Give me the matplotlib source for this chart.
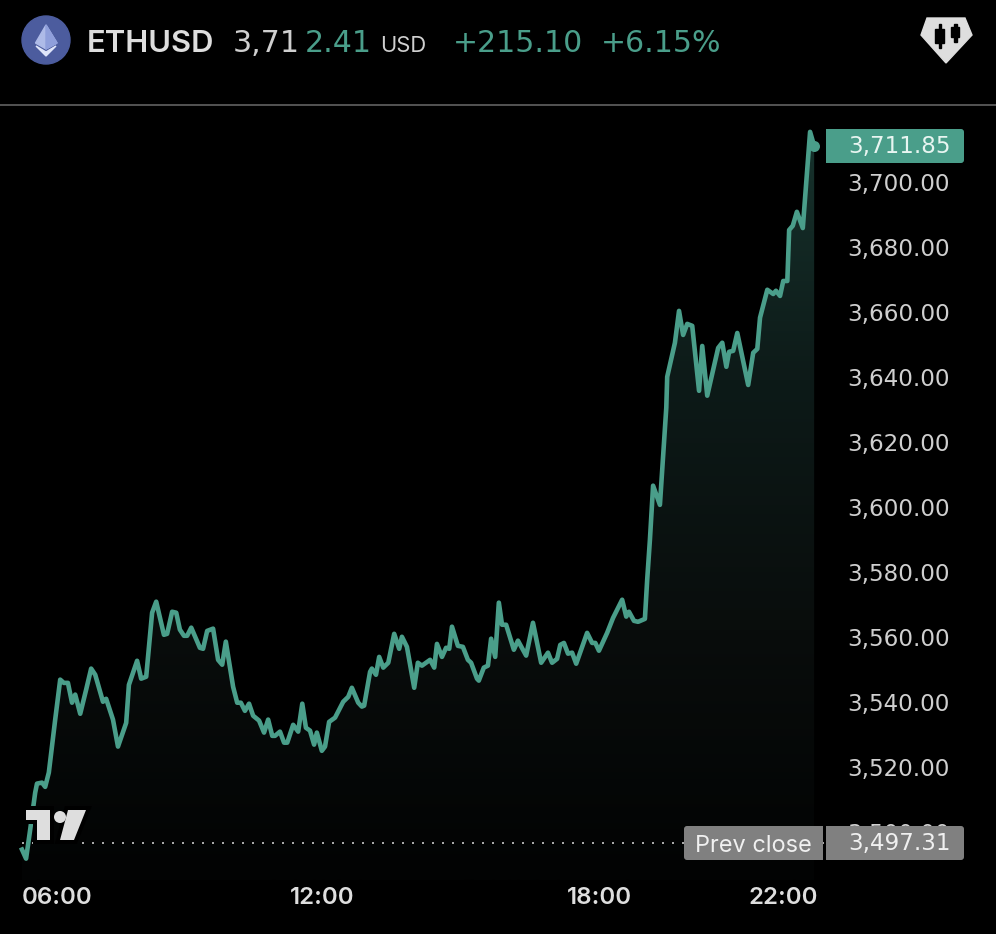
import matplotlib
matplotlib.use("Agg")
import matplotlib.pyplot as plt
import numpy as np
from matplotlib.colors import LinearSegmentedColormap
from matplotlib.patches import Circle, FancyBboxPatch, Polygon, Rectangle

# hours of the day
times = [5.23, 5.32, 5.41, 5.52, 5.56, 5.67, 5.74, 5.82, 5.96, 6.07, 6.15, 6.24, 6.33, 6.40, 6.51, 6.64,
         6.75, 6.84, 7.01, 7.08, 7.23, 7.34, 7.52, 7.58, 7.76, 7.85, 7.96, 8.09, 8.18, 8.35, 8.42, 8.53,
         8.62, 8.70, 8.79, 8.86, 8.95, 9.14, 9.21, 9.30, 9.43, 9.54, 9.63, 9.71, 9.87, 9.96, 10.04, 10.13,
         10.22, 10.31, 10.44, 10.55, 10.64, 10.73, 10.79, 10.90, 10.99, 11.06, 11.19, 11.30, 11.39, 11.47,
         11.56, 11.65, 11.71, 11.82, 11.89, 11.98, 12.11, 12.29, 12.40, 12.48, 12.62, 12.70, 12.75, 12.88,
         12.92, 13.01, 13.08, 13.17, 13.28, 13.41, 13.52, 13.58, 13.69, 13.85, 13.93, 14.02, 14.20, 14.29,
         14.35, 14.46, 14.55, 14.62, 14.68, 14.81, 14.92, 15.03, 15.10, 15.23, 15.27, 15.38, 15.47, 15.54,
         15.63, 15.71, 15.78, 15.87, 16.04, 16.13, 16.31, 16.46, 16.64, 16.79, 16.88, 16.99, 17.06, 17.14,
         17.23, 17.32, 17.41, 17.65, 17.76, 17.83, 17.91, 18.09, 18.22, 18.42, 18.51, 18.57, 18.68, 18.77,
         18.92, 18.97, 19.03, 19.10, 19.25, 19.39, 19.41, 19.58, 19.67, 19.76, 19.85, 19.96, 20.11, 20.18,
         20.29, 20.53, 20.62, 20.71, 20.77, 20.86, 20.95, 21.19, 21.30, 21.39, 21.45, 21.61, 21.74, 21.80,
         21.89, 21.96, 22.05, 22.09, 22.17, 22.26, 22.39, 22.55, 22.64]

prices = [3495.3, 3492.5, 3501.4, 3512.8, 3515.6, 3515.9, 3514.6, 3519.0, 3535.3, 3547.6, 3546.6, 3546.6,
          3540.5, 3543.0, 3537.1, 3544.5, 3551.0, 3549.1, 3540.8, 3541.7, 3535.3, 3527.0, 3534.3, 3546.0,
          3553.4, 3547.9, 3548.5, 3568.2, 3571.6, 3561.4, 3561.7, 3568.5, 3568.2, 3563.0, 3561.1, 3561.1,
          3563.6, 3557.4, 3557.1, 3562.6, 3563.3, 3553.7, 3552.2, 3559.3, 3545.4, 3540.5, 3540.5, 3538.0,
          3540.2, 3536.5, 3535.0, 3531.3, 3535.3, 3530.3, 3530.3, 3531.6, 3528.2, 3528.2, 3533.7, 3531.6,
          3540.2, 3532.8, 3531.9, 3527.6, 3531.3, 3525.7, 3527.0, 3534.6, 3535.9, 3540.8, 3542.3, 3545.1,
          3540.5, 3539.3, 3539.6, 3550.0, 3551.0, 3549.1, 3554.6, 3551.3, 3552.8, 3561.7, 3557.1, 3560.8,
          3557.7, 3545.1, 3552.8, 3551.9, 3553.7, 3551.3, 3558.6, 3554.6, 3557.4, 3557.1, 3563.9, 3558.0,
          3557.7, 3553.7, 3552.8, 3547.9, 3547.3, 3551.3, 3551.9, 3560.2, 3554.6, 3571.3, 3564.5, 3564.5,
          3556.8, 3559.6, 3555.0, 3565.1, 3552.8, 3555.9, 3552.8, 3554.0, 3558.3, 3558.9, 3555.6, 3555.9,
          3552.5, 3562.0, 3558.9, 3558.9, 3556.5, 3562.0, 3566.6, 3572.2, 3567.0, 3568.5, 3565.7, 3565.4,
          3566.3, 3578.3, 3590.6, 3607.3, 3601.4, 3631.3, 3640.8, 3651.3, 3661.1, 3653.7, 3657.1, 3656.5,
          3636.5, 3650.3, 3635.0, 3649.7, 3651.3, 3643.9, 3648.5, 3648.8, 3654.3, 3638.3, 3648.2, 3649.4,
          3659.0, 3667.6, 3666.3, 3667.3, 3665.7, 3670.3, 3670.3, 3686.0, 3687.3, 3691.6, 3686.6, 3716.2,
          3711.85]

prev_close = 3497.31
last_price = 3711.85

y_ticks = [3500, 3520, 3540, 3560, 3580, 3600, 3620, 3640, 3660, 3680, 3700]
y_tick_labels = ["3,500.00", "3,520.00", "3,540.00", "3,560.00", "3,580.00", "3,600.00",
                 "3,620.00", "3,640.00", "3,660.00", "3,680.00", "3,700.00"]
x_ticks = [6, 11.83, 17.93, 21.96]
x_tick_labels = ["06:00", "12:00", "18:00", "22:00"]

W, H = 996, 934
GREEN = "#4a9e8a"
LIGHT = "#dedede"
GREY_BOX = "#808080"
FONT = "Inter"
NUM_FONT = "DejaVu Sans"  # its wide digits fit the spacing of the original numbers
PX = 72 / 100  # one pixel in points at dpi 100

plt.rcParams["ytick.alignment"] = "center"

fig = plt.figure(figsize=(W / 100, H / 100), dpi=100, facecolor="black")

# price axes, placed in pixels of the figure
ax = fig.add_axes([0, (H - 880) / H, 826 / W, (880 - 105) / H], facecolor="black")

fill_poly = ax.fill_between(times, prices, 3485.93, color="none")
grad = LinearSegmentedColormap.from_list("g", ["#17332d", "#0d1a18", "#090d0c", "#020303"])
im = ax.imshow(np.linspace(0, 1, 256).reshape(-1, 1), extent=(times[0], times[-1], 3485.93, 3716.5),
               aspect="auto", cmap=grad, origin="upper", zorder=1)
im.set_clip_path(fill_poly.get_paths()[0], transform=ax.transData)

ax.plot(times, prices, color=GREEN, lw=4.6 * PX, zorder=3)
ax.plot([times[-1]], [last_price], "o", color=GREEN, ms=11 * PX, mew=0, zorder=3)
ax.hlines(prev_close, times[0], 22.9, color="#a8a8a8", lw=2 * PX, linestyles=(0, (1, 4)), zorder=2)

ax.set_xlim(4.747, 22.90)
ax.set_ylim(3485.93, 3724.47)
ax.yaxis.tick_right()
ax.set_yticks(y_ticks, y_tick_labels)
ax.set_xticks(x_ticks, x_tick_labels)
ax.tick_params(axis="y", length=0, pad=21 * PX, labelsize=23 * PX, labelcolor="#cfcfcf")
ax.tick_params(axis="x", length=0, pad=7 * PX, labelsize=24 * PX, labelcolor=LIGHT)
for lab in ax.get_yticklabels():
    lab.set_fontfamily(NUM_FONT)
for lab in ax.get_xticklabels():
    lab.set_fontfamily(FONT)
    lab.set_fontweight("semibold")
for s in ax.spines.values():
    s.set_visible(False)

# overlay in pixel coordinates for the header, logo and price boxes
ov = fig.add_axes([0, 0, 1, 1], facecolor="none", zorder=5)
ov.set_xlim(0, W)
ov.set_ylim(H, 0)
ov.axis("off")

# header
ov.add_patch(Circle((46, 40), 24, color="#4c5c9e"))
ov.add_patch(Polygon([(46, 25), (35.5, 43), (46, 49), (57, 43)], color="#aebbe8"))
ov.add_patch(Polygon([(46, 25), (46, 49), (57, 43)], color="#8f9fdb"))
ov.add_patch(Polygon([(36, 46), (46, 52), (56, 46), (46, 56)], color="#dfe5fa"))

ov.text(87, 52, "ETHUSD", color=LIGHT, fontsize=31 * PX, fontfamily=FONT, fontweight="semibold")
ov.text(233, 52, "3,71", color="#cfcfcf", fontsize=30 * PX, fontfamily=NUM_FONT)
ov.text(305, 52, "2.41", color=GREEN, fontsize=30 * PX, fontfamily=NUM_FONT)
ov.text(380, 52, "USD", color="#cfcfcf", fontsize=22 * PX, fontfamily=FONT)
ov.text(453, 52, "+215.10", color=GREEN, fontsize=30 * PX, fontfamily=NUM_FONT)
ov.text(601, 52, "+6.15%", color=GREEN, fontsize=30 * PX, fontfamily=NUM_FONT)
ov.plot([0, W], [105, 105], color="#666666", lw=1.6 * PX)

# chart type badge, top right
ov.add_patch(Polygon([(927, 18), (965, 18), (972, 35), (946, 63), (921, 35)], color=LIGHT))
ov.add_patch(Rectangle((935, 29), 9, 14, color="black"))
ov.add_patch(Rectangle((938.5, 24), 2.5, 24, color="black"))
ov.add_patch(Rectangle((951, 27), 8, 10, color="black"))
ov.add_patch(Rectangle((954, 24), 2.5, 18, color="black"))

# logo with a black halo
ov.add_patch(Polygon([(26, 810), (50, 810), (50, 840), (37, 840), (37, 820), (26, 820)],
                     fc=LIGHT, ec="black", lw=8 * PX, joinstyle="miter", zorder=2))
ov.add_patch(Polygon([(26, 810), (50, 810), (50, 840), (37, 840), (37, 820), (26, 820)], fc=LIGHT, ec="none", zorder=3))
ov.add_patch(Polygon([(68, 810), (86, 810), (74, 840), (60, 840)], fc=LIGHT, ec="black", lw=8 * PX, zorder=2))
ov.add_patch(Polygon([(68, 810), (86, 810), (74, 840), (60, 840)], fc=LIGHT, ec="none", zorder=3))
ov.add_patch(Circle((60, 817), 6, fc=LIGHT, ec="none", zorder=3))


def box(x0, y0, x1, y1, color):
    ov.add_patch(FancyBboxPatch((x0 + 3, y0 + 3), x1 - x0 - 6, y1 - y0 - 6, boxstyle="round,pad=3,rounding_size=3",
                                fc=color, ec="none", zorder=4))


# last price tag
box(826, 129, 964, 163, GREEN)
ov.add_patch(Rectangle((826, 129), 6, 34, fc=GREEN, ec="none", zorder=4))
ov.text(848, 153, "3,711.85", color="#e8f5f1", fontsize=23 * PX, fontfamily=NUM_FONT, zorder=5)

# previous close tags
box(684, 826, 823, 860, GREY_BOX)
box(826, 826, 964, 860, GREY_BOX)
ov.add_patch(Rectangle((815, 826), 8, 34, fc=GREY_BOX, ec="none", zorder=4))
ov.add_patch(Rectangle((826, 826), 8, 34, fc=GREY_BOX, ec="none", zorder=4))
ov.text(695, 852, "Prev close", color="#f0f0f0", fontsize=23.5 * PX, fontfamily=FONT, zorder=5)
ov.text(848, 850, "3,497.31", color="#f0f0f0", fontsize=23 * PX, fontfamily=NUM_FONT, zorder=5)

fig.savefig("out.png", dpi=100, facecolor="black")
